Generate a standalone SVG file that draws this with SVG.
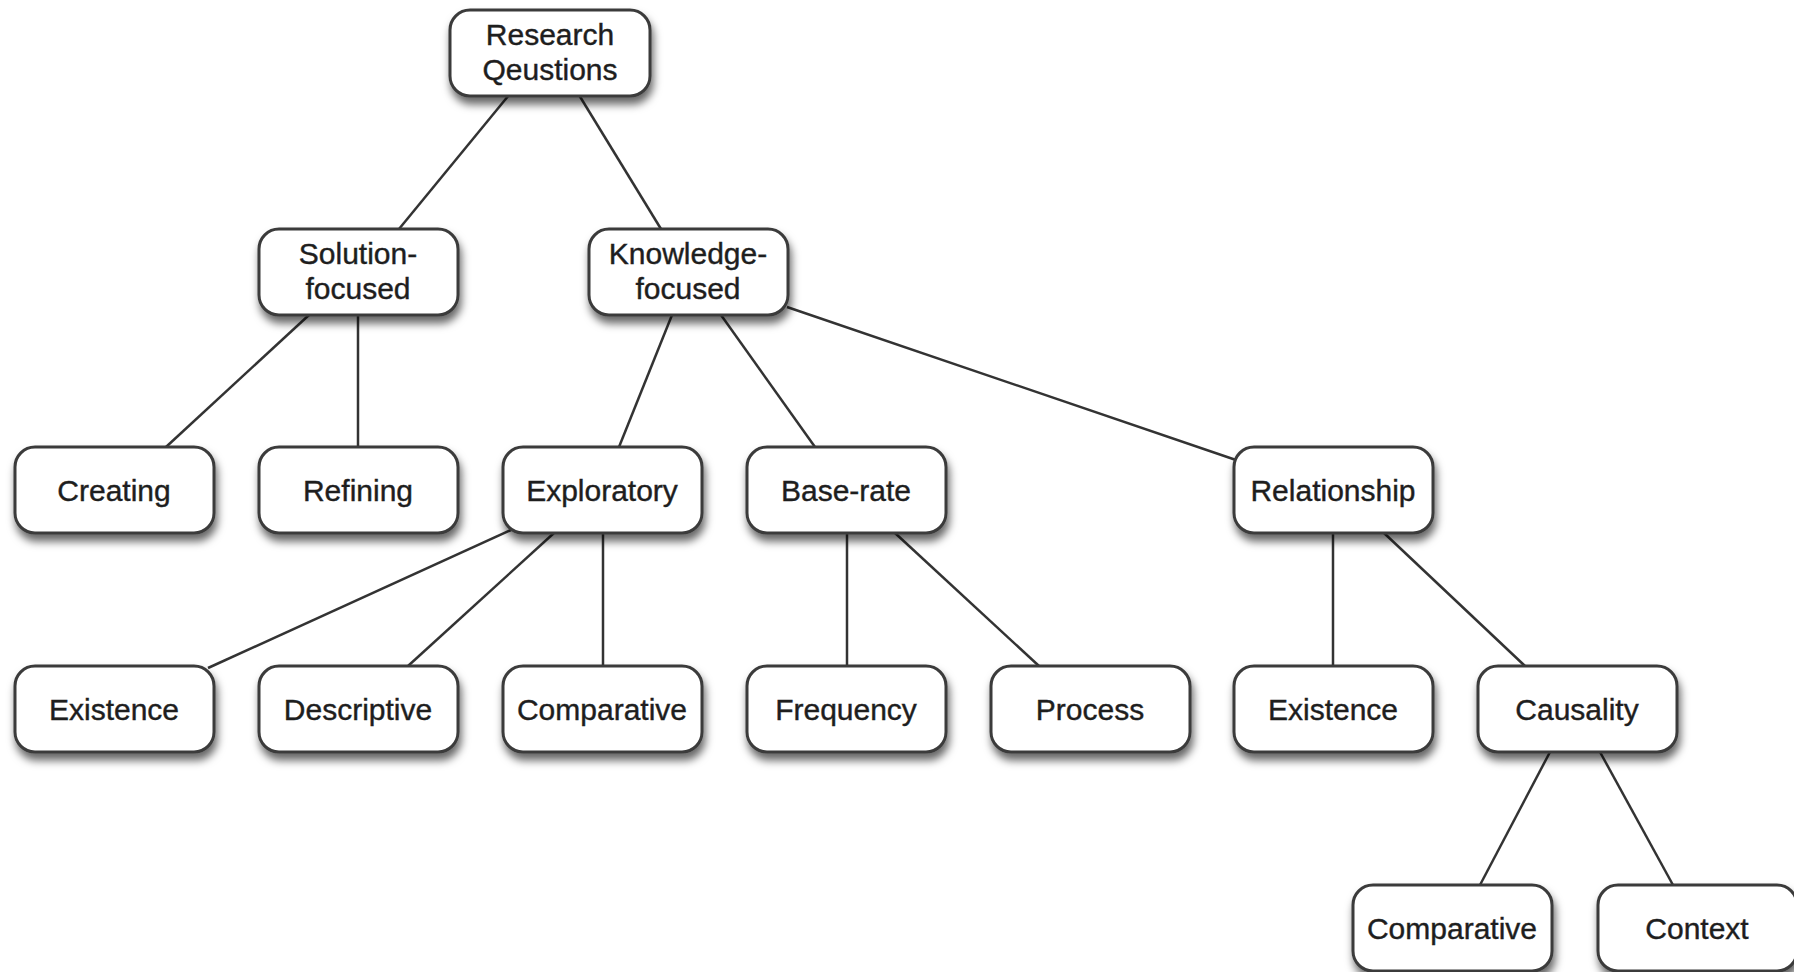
<svg xmlns="http://www.w3.org/2000/svg" width="1794" height="972" viewBox="0 0 1794 972">
<defs>
<filter id="sh" x="-10%" y="-20%" width="125%" height="150%">
<feDropShadow dx="2" dy="7" stdDeviation="4.5" flood-color="#000" flood-opacity="0.6"/>
</filter>
<style>
.box{fill:#fff;stroke:#3a3a3a;stroke-width:3;filter:url(#sh)}
.t{font-family:"Liberation Sans",Arial,sans-serif;font-size:30px;fill:#1e1e1e;stroke:#1e1e1e;stroke-width:0.4;text-anchor:middle}
.c line{stroke:#333;stroke-width:2.5}
</style>
</defs>
<rect width="1794" height="972" fill="#fff"/>
<g class="c" id="connectors">
<line x1="509" y1="95" x2="399" y2="229"/>
<line x1="579" y1="95" x2="661" y2="229"/>
<line x1="309" y1="315" x2="166" y2="447"/>
<line x1="358" y1="315" x2="358" y2="447"/>
<line x1="672" y1="315" x2="619" y2="447"/>
<line x1="721" y1="315" x2="815" y2="447"/>
<line x1="787" y1="307" x2="1236" y2="460"/>
<line x1="511" y1="530" x2="208" y2="668"/>
<line x1="554" y1="533" x2="408" y2="666"/>
<line x1="603" y1="533" x2="603" y2="666"/>
<line x1="847" y1="533" x2="847" y2="666"/>
<line x1="895" y1="533" x2="1039" y2="666"/>
<line x1="1333" y1="533" x2="1333" y2="666"/>
<line x1="1384" y1="533" x2="1525" y2="666"/>
<line x1="1550" y1="752" x2="1480" y2="885"/>
<line x1="1600" y1="752" x2="1673" y2="885"/>
</g>
<g id="n-research"><rect class="box" x="450" y="10" width="200" height="86" rx="20"/><text class="t" x="550" y="45">Research</text><text class="t" x="550" y="80">Qeustions</text></g>
<g id="n-solution"><rect class="box" x="259" y="229" width="199" height="86" rx="20"/><text class="t" x="358" y="264">Solution-</text><text class="t" x="358" y="299">focused</text></g>
<g id="n-knowledge"><rect class="box" x="589" y="229" width="199" height="86" rx="20"/><text class="t" x="688" y="264">Knowledge-</text><text class="t" x="688" y="299">focused</text></g>
<g id="n-creating"><rect class="box" x="15" y="447" width="199" height="86" rx="20"/><text class="t" x="114" y="501">Creating</text></g>
<g id="n-refining"><rect class="box" x="259" y="447" width="199" height="86" rx="20"/><text class="t" x="358" y="501">Refining</text></g>
<g id="n-exploratory"><rect class="box" x="503" y="447" width="199" height="86" rx="20"/><text class="t" x="602" y="501">Exploratory</text></g>
<g id="n-baserate"><rect class="box" x="747" y="447" width="199" height="86" rx="20"/><text class="t" x="846" y="501">Base-rate</text></g>
<g id="n-relationship"><rect class="box" x="1234" y="447" width="199" height="86" rx="20"/><text class="t" x="1333" y="501">Relationship</text></g>
<g id="n-existence1"><rect class="box" x="15" y="666" width="199" height="86" rx="20"/><text class="t" x="114" y="720">Existence</text></g>
<g id="n-descriptive"><rect class="box" x="259" y="666" width="199" height="86" rx="20"/><text class="t" x="358" y="720">Descriptive</text></g>
<g id="n-comparative1"><rect class="box" x="503" y="666" width="199" height="86" rx="20"/><text class="t" x="602" y="720">Comparative</text></g>
<g id="n-frequency"><rect class="box" x="747" y="666" width="199" height="86" rx="20"/><text class="t" x="846" y="720">Frequency</text></g>
<g id="n-process"><rect class="box" x="991" y="666" width="199" height="86" rx="20"/><text class="t" x="1090" y="720">Process</text></g>
<g id="n-existence2"><rect class="box" x="1234" y="666" width="199" height="86" rx="20"/><text class="t" x="1333" y="720">Existence</text></g>
<g id="n-causality"><rect class="box" x="1478" y="666" width="199" height="86" rx="20"/><text class="t" x="1577" y="720">Causality</text></g>
<g id="n-comparative2"><rect class="box" x="1353" y="885" width="199" height="86" rx="20"/><text class="t" x="1452" y="939">Comparative</text></g>
<g id="n-context"><rect class="box" x="1598" y="885" width="199" height="86" rx="20"/><text class="t" x="1697" y="939">Context</text></g>
</svg>
